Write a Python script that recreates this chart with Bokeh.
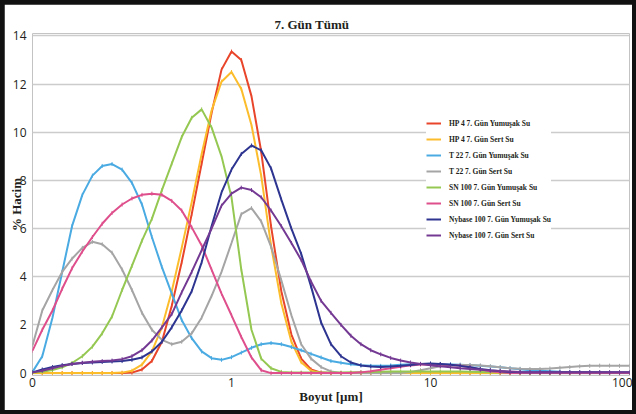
import math
from bokeh.plotting import figure
from bokeh.layouts import column, row
from bokeh.models import Range1d, FixedTicker, Legend, LegendItem, Title, Spacer
from bokeh.embed import file_html
from bokeh.resources import INLINE

# particle size bins (µm)
sizes = [0.1, 0.112, 0.126, 0.141, 0.158, 0.178, 0.2, 0.224, 0.251, 0.282,
         0.316, 0.355, 0.398, 0.447, 0.501, 0.562, 0.631, 0.708, 0.794, 0.891,
         1.0, 1.12, 1.26, 1.41, 1.58, 1.78, 2.0, 2.24, 2.51, 2.82,
         3.16, 3.55, 3.98, 4.47, 5.01, 5.62, 6.31, 7.08, 7.94, 8.91,
         10.0, 11.2, 12.6, 14.1, 15.8, 17.8, 20.0, 22.4, 25.1, 28.2,
         31.6, 35.5, 39.8, 44.7, 50.1, 56.2, 63.1, 70.8, 79.4, 89.1,
         100.0]

hp4_yumusak = [0, 0, 0, 0, 0, 0, 0, 0, 0, 0,
               0.02, 0.15, 0.5, 1.3, 2.8, 4.6, 6.6, 8.7, 10.8, 12.6,
               13.35, 13.0, 11.5, 9.2, 6.1, 3.4, 1.6, 0.6, 0.15, 0.02,
               0, 0, 0, 0, 0, 0, 0, 0, 0, 0,
               0, 0, 0, 0, 0, 0, 0, 0, 0, 0,
               0, 0, 0, 0, 0, 0, 0, 0, 0, 0, 0]
hp4_sert = [0, 0, 0, 0, 0, 0, 0, 0, 0, 0.02,
            0.1, 0.35, 0.9, 1.9, 3.4, 5.2, 7.1, 9.1, 10.9, 12.1,
            12.5, 11.8, 10.3, 8.2, 5.3, 2.9, 1.3, 0.45, 0.1, 0,
            0, 0, 0, 0, 0, 0, 0, 0, 0, 0,
            0, 0, 0, 0, 0, 0, 0, 0, 0, 0,
            0, 0, 0, 0, 0, 0, 0, 0, 0, 0, 0]
t22_yumusak = [0.05, 0.7, 2.3, 4.2, 6.1, 7.4, 8.2, 8.6, 8.68, 8.45,
               7.9, 7.0, 5.65, 4.4, 3.3, 2.2, 1.45, 0.9, 0.62, 0.55,
               0.66, 0.85, 1.05, 1.2, 1.25, 1.2, 1.08, 0.95, 0.8, 0.65,
               0.5, 0.43, 0.37, 0.33, 0.3, 0.3, 0.32, 0.35, 0.37, 0.38,
               0.38, 0.37, 0.36, 0.35, 0.33, 0.3, 0.27, 0.24, 0.2, 0.16,
               0.12, 0.1, 0.08, 0.06, 0.05, 0.04, 0.03, 0.02, 0.01, 0, 0]
t22_sert = [1.15, 2.6, 3.45, 4.2, 4.75, 5.2, 5.45, 5.35, 5.0, 4.3,
            3.45, 2.5, 1.8, 1.38, 1.2, 1.3, 1.65, 2.3, 3.2, 4.2,
            5.4, 6.6, 6.85, 6.3, 5.25, 3.85, 2.4, 1.2, 0.6, 0.25,
            0.07, 0, 0, 0, 0, 0, 0, 0, 0.05, 0.12,
            0.2, 0.28, 0.32, 0.34, 0.34, 0.32, 0.28, 0.24, 0.2, 0.18,
            0.17, 0.17, 0.19, 0.22, 0.25, 0.28, 0.3, 0.31, 0.31, 0.3, 0.3]
sn100_yumusak = [0.02, 0.06, 0.13, 0.24, 0.42, 0.7, 1.1, 1.65, 2.35, 3.45,
                 4.45, 5.5, 6.4, 7.6, 8.7, 9.8, 10.6, 10.95, 10.2, 9.0,
                 7.3, 4.3, 1.8, 0.6, 0.2, 0.05, 0.02, 0.02, 0.02, 0.02,
                 0.02, 0.02, 0.03, 0.04, 0.05, 0.06, 0.07, 0.07, 0.07, 0.07,
                 0.07, 0.07, 0.07, 0.07, 0.06, 0.05, 0.04, 0.02, 0, 0,
                 0, 0, 0, 0, 0, 0, 0, 0, 0, 0, 0]
sn100_sert = [0.93, 1.8, 2.6, 3.5, 4.35, 5.05, 5.65, 6.2, 6.65, 7.0,
              7.25, 7.4, 7.45, 7.4, 7.15, 6.75, 6.05, 5.3, 4.3, 3.3,
              2.4, 1.5, 0.65, 0.12, 0, 0, 0, 0, 0, 0,
              0, 0, 0, 0.03, 0.08, 0.14, 0.2, 0.26, 0.32, 0.36,
              0.37, 0.36, 0.34, 0.3, 0.24, 0.15, 0.08, 0.03, 0, 0,
              0, 0, 0, 0, 0, 0, 0, 0, 0, 0, 0]
nybase_yumusak = [0.03, 0.15, 0.25, 0.33, 0.38, 0.42, 0.44, 0.46, 0.48, 0.5,
                  0.55, 0.65, 0.9, 1.3, 1.9, 2.6, 3.4, 4.6, 6.1, 7.5,
                  8.45, 9.1, 9.45, 9.25, 8.5, 7.2, 6.0, 4.95, 3.6, 2.1,
                  1.2, 0.7, 0.44, 0.32, 0.27, 0.25, 0.27, 0.3, 0.34, 0.38,
                  0.4, 0.38, 0.35, 0.3, 0.24, 0.17, 0.12, 0.08, 0.05, 0.04,
                  0.03, 0.03, 0.03, 0.03, 0.03, 0.03, 0.03, 0.03, 0.03, 0.03, 0.03]
nybase_sert = [0.03, 0.1, 0.2, 0.3, 0.38, 0.43, 0.47, 0.5, 0.52, 0.58,
               0.7, 0.95, 1.35, 1.9, 2.45, 3.35, 4.2, 5.1, 6.0, 6.95,
               7.45, 7.7, 7.6, 7.3, 6.75, 6.1, 5.4, 4.7, 3.8, 3.0,
               2.5, 2.0, 1.55, 1.2, 0.95, 0.78, 0.63, 0.52, 0.44, 0.38,
               0.32, 0.28, 0.24, 0.2, 0.17, 0.14, 0.11, 0.09, 0.07, 0.05,
               0.04, 0.04, 0.03, 0.03, 0.03, 0.03, 0.03, 0.03, 0.03, 0.03, 0.03]

series_names = ["HP 4 7. Gün Yumuşak Su", "HP 4 7. Gün Sert Su",
                "T 22 7. Gün Yumuşak Su", "T 22 7. Gün Sert Su",
                "SN 100 7. Gün Yumuşak Su", "SN 100 7. Gün Sert Su",
                "Nybase 100 7. Gün Yumuşak Su", "Nybase 100 7. Gün Sert Su"]
series_values = [hp4_yumusak, hp4_sert, t22_yumusak, t22_sert,
                 sn100_yumusak, sn100_sert, nybase_yumusak, nybase_sert]
series_colors = ["#e8452a", "#fcbd2c", "#4aaae2", "#a5a5a5",
                 "#95c852", "#de4f8c", "#2e3591", "#743a93"]

x_tick_values = [0.1, 1, 10, 100]
x_tick_labels = ["0", "1", "10", "100"]
y_tick_values = [0, 2, 4, 6, 8, 10, 12, 14]

title_text = "7. Gün Tümü"
x_label = "Boyut [µm]"
y_label = "% Hacim"

SERIF = "Liberation Serif"
SANS = "Open Sans"
INK = "#231f20"
BORDER = "#111111"

p = figure(width=628, height=406, x_axis_type="log",
           x_range=Range1d(0.1, 100), y_range=Range1d(-0.1, 14.1),
           output_backend="svg", toolbar_location=None,
           min_border_left=28, min_border_right=3,
           min_border_top=29, min_border_bottom=35)
p.outline_line_color = None
p.background_fill_color = "white"
p.border_fill_color = "white"

p.title = Title(text=title_text, align="left", offset=242, standoff=3,
                text_font=SERIF, text_font_style="bold",
                text_font_size="13px", text_color=INK)

p.xgrid.grid_line_color = None
p.ygrid.grid_line_color = "#cccccc"
p.ygrid.grid_line_width = 1.3

p.xaxis.ticker = FixedTicker(ticks=x_tick_values)
p.xaxis.major_label_overrides = {v: l for v, l in zip(x_tick_values, x_tick_labels)}
p.yaxis.ticker = FixedTicker(ticks=y_tick_values)
for ax in (p.xaxis, p.yaxis):
    ax.axis_line_color = None
    ax.major_tick_line_color = None
    ax.minor_tick_line_color = None
    ax.major_label_text_font = SANS
    ax.major_label_text_font_size = "12px"
    ax.major_label_text_color = INK
    ax.axis_label_text_font = SERIF
    ax.axis_label_text_font_style = "bold"
    ax.axis_label_text_font_size = "13px"
    ax.axis_label_text_color = INK
p.yaxis.major_label_standoff = 0
p.xaxis.major_label_standoff = -4
p.xaxis.axis_label = x_label
p.xaxis.axis_label_standoff = -1
p.yaxis.axis_label = y_label
p.yaxis.axis_label_standoff = -14
p.yaxis.axis_label_text_line_height = 0.9

items = []
for name, vals, col in zip(series_names, series_values, series_colors):
    r1 = p.line(sizes, vals, line_color=col, line_width=2)
    r2 = p.scatter(sizes, vals, marker="dash", angle=math.pi / 2, size=4,
                   line_color=col, line_width=1)
    items.append(LegendItem(label=name, renderers=[r1, r2]))

legend = Legend(items=items, location=(394, 135),
                label_text_font=SERIF, label_text_font_style="bold",
                label_text_font_size="7.5px", label_text_color=INK,
                glyph_width=15, glyph_height=10, label_height=10,
                spacing=6, padding=6, margin=0, label_standoff=8,
                border_line_color=None, background_fill_color="white",
                background_fill_alpha=1.0)
p.add_layout(legend, "center")

layout = column(
    Spacer(width=636, height=4),
    row(Spacer(width=4, height=406), p, Spacer(width=4, height=406)),
    Spacer(width=636, height=4),
    styles={"background-color": BORDER},
)

open("out.html", "w").write(file_html(layout, INLINE))
